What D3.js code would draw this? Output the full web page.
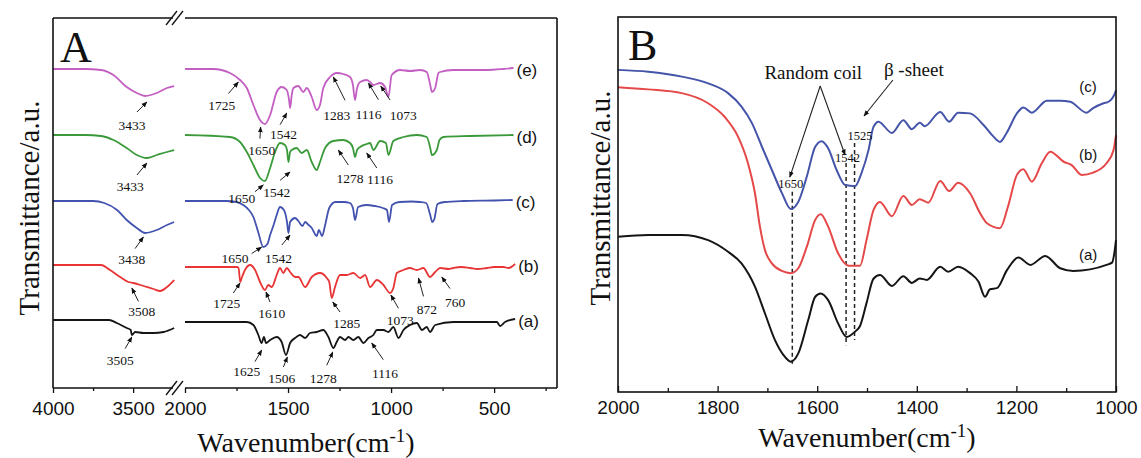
<!DOCTYPE html>
<html><head><meta charset="utf-8">
<script src="https://cdn.jsdelivr.net/npm/d3@7"></script>
<style>body{margin:0;background:#fff}svg{display:block}</style>
</head><body><svg id="c" width="1141" height="458"></svg>
<script>
// ---------------- DATA ----------------
// Panel A, high-wavenumber segment (4000-3220 cm-1), transmittance a.u.
const aLeft_e = [[4000,31.9],[3800,31.9],[3700,31.8],[3623,31.3],[3540,30.1],[3477,29.5],[3425,29.2],[3352,29.5],[3289,30.0],[3244,30.2]];
const aLeft_d = [[4000,25.3],[3800,25.3],[3700,25.2],[3623,24.8],[3540,24.0],[3477,23.3],[3415,23.0],[3352,23.3],[3289,23.6],[3244,23.8]];
const aLeft_c = [[4000,18.7],[3750,18.7],[3680,18.5],[3600,17.8],[3540,16.8],[3477,16.0],[3425,15.5],[3352,15.8],[3289,16.3],[3244,16.6]];
const aLeft_b = [[4000,12.3],[3700,12.3],[3644,11.8],[3581,11.1],[3529,10.6],[3498,10.5],[3435,10.2],[3373,9.9],[3331,9.7],[3289,10.1],[3244,10.8]];
const aLeft_a = [[4000,6.8],[3650,6.8],[3602,6.5],[3540,6.0],[3515,5.8],[3508,5.3],[3487,5.6],[3435,5.5],[3373,5.5],[3310,5.6],[3244,6.0]];
// Panel A, fingerprint segment (2000-400 cm-1)
const aRight_e = [[2000,31.9],[1863,31.9],[1782,31.5],[1733,30.8],[1700,30.0],[1668,28.3],[1636,26.8],[1612,26.4],[1587,27.3],[1555,29.6],[1531,30.1],[1506,29.8],[1495,28.8],[1490,28.0],[1482,29.3],[1474,30.0],[1450,30.2],[1426,29.6],[1409,30.0],[1385,29.1],[1361,27.8],[1345,28.3],[1329,30.0],[1296,31.1],[1264,31.5],[1232,31.4],[1199,31.1],[1185,30.3],[1175,28.8],[1165,30.0],[1150,30.6],[1118,30.8],[1102,30.6],[1086,30.3],[1053,30.5],[1029,30.1],[1013,29.1],[997,31.3],[956,31.8],[908,31.7],[859,31.8],[827,31.6],[810,30.3],[802,29.6],[786,30.0],[770,31.5],[762,31.6],[698,31.8],[617,31.8],[535,31.8],[455,31.9],[406,32.0]];
const aRight_d = [[2000,25.3],[1782,25.1],[1733,24.6],[1700,23.6],[1668,22.3],[1636,21.0],[1612,20.7],[1587,22.0],[1563,23.6],[1539,24.5],[1515,24.3],[1505,23.8],[1498,22.6],[1490,23.6],[1482,23.8],[1458,24.0],[1434,23.5],[1409,23.8],[1385,22.6],[1361,21.8],[1345,22.6],[1320,24.0],[1280,24.7],[1232,24.8],[1199,24.5],[1185,24.0],[1175,23.1],[1165,23.8],[1150,24.1],[1118,24.4],[1102,24.5],[1086,23.8],[1053,24.7],[1025,24.5],[1013,23.3],[989,24.7],[940,25.1],[875,25.3],[827,25.1],[810,24.0],[802,23.3],[778,23.8],[765,24.8],[746,25.1],[617,25.2],[406,25.3]];
const aRight_c = [[2000,18.7],[1800,18.7],[1750,18.6],[1717,18.3],[1690,17.8],[1668,17.1],[1645,15.6],[1620,14.1],[1600,14.4],[1587,15.3],[1570,16.3],[1555,17.3],[1539,18.1],[1520,17.8],[1505,16.6],[1498,15.5],[1490,16.6],[1466,17.0],[1450,16.7],[1430,16.2],[1417,16.6],[1400,16.3],[1385,16.0],[1361,15.2],[1350,15.8],[1335,15.2],[1320,16.3],[1300,18.0],[1270,18.6],[1230,18.6],[1200,18.5],[1185,18.0],[1175,16.8],[1160,18.1],[1120,18.3],[1080,18.2],[1040,18.0],[1020,17.8],[1010,16.6],[995,18.3],[960,18.6],[900,18.65],[860,18.6],[830,18.5],[810,17.3],[800,16.6],[790,16.9],[775,18.4],[740,18.6],[650,18.7],[500,18.75],[410,18.8]];
const aRight_b = [[2000,12.1],[1749,12.1],[1740,12.0],[1732,10.6],[1725,11.0],[1709,11.8],[1684,12.3],[1660,11.8],[1636,10.6],[1612,9.8],[1596,10.3],[1579,10.1],[1555,11.3],[1539,12.0],[1523,11.5],[1506,12.0],[1490,11.6],[1466,11.1],[1450,11.1],[1417,10.1],[1385,11.1],[1345,11.5],[1312,11.0],[1300,10.6],[1288,9.0],[1272,10.1],[1248,11.3],[1215,11.3],[1183,11.5],[1150,11.0],[1126,11.3],[1102,10.1],[1069,10.8],[1037,10.3],[1005,9.5],[989,10.0],[972,11.5],[940,11.8],[908,12.0],[875,11.8],[843,12.0],[811,11.1],[786,11.6],[762,12.0],[720,11.9],[698,12.0],[660,12.1],[617,12.0],[580,11.9],[535,12.0],[500,12.1],[455,12.1],[430,12.0],[398,12.4]];
const aRight_a = [[2000,6.6],[1700,6.6],[1668,6.3],[1644,5.3],[1628,4.5],[1617,5.1],[1607,4.5],[1587,4.8],[1555,5.1],[1531,4.6],[1510,3.3],[1490,4.5],[1466,5.0],[1442,5.3],[1417,5.0],[1393,5.5],[1361,5.6],[1329,5.8],[1304,5.1],[1280,4.0],[1264,4.6],[1248,5.1],[1223,4.8],[1207,5.1],[1183,4.8],[1159,5.1],[1134,4.5],[1110,5.0],[1086,5.3],[1069,5.8],[1037,5.8],[1013,5.6],[989,6.1],[964,5.0],[940,5.8],[908,6.3],[875,6.5],[850,5.8],[827,6.1],[811,5.6],[786,6.3],[698,6.6],[617,6.6],[535,6.6],[487,6.6],[471,6.2],[447,6.6],[398,6.9]];
const seriesNamesA = ["(e)","(d)","(c)","(b)","(a)"];

// Panel B (2000-1000 cm-1), transmittance a.u.
const bSpec_c = [[2000,85.9],[1939,85.4],[1872,84.1],[1819,82.3],[1779,79.7],[1752,76.1],[1731,71.7],[1711,65.4],[1691,59.2],[1671,53.1],[1653,48.8],[1638,50.7],[1621,57.4],[1604,65.4],[1591,66.9],[1578,65.0],[1561,59.2],[1544,55.2],[1524,54.9],[1511,58.4],[1497,64.5],[1487,70.7],[1477,72.1],[1450,69.1],[1427,72.5],[1410,70.1],[1394,71.8],[1384,70.9],[1353,74.7],[1335,72.1],[1317,74.5],[1293,74.3],[1266,71.2],[1246,68.1],[1233,66.7],[1220,69.0],[1199,74.3],[1186,75.9],[1169,74.5],[1139,77.7],[1112,77.7],[1092,77.4],[1059,74.5],[1046,75.7],[1025,77.0],[1015,77.4],[1002,79.7],[1000,80.5]];
const bSpec_b = [[2000,81.3],[1939,80.7],[1872,79.7],[1819,77.0],[1786,73.4],[1759,68.1],[1739,61.0],[1725,53.0],[1715,44.1],[1705,37.9],[1691,34.3],[1671,32.3],[1653,31.7],[1638,33.0],[1621,38.7],[1604,45.9],[1593,47.4],[1578,44.1],[1558,37.0],[1537,33.7],[1514,33.7],[1501,40.5],[1487,48.5],[1474,50.7],[1450,46.9],[1427,52.3],[1410,49.9],[1394,51.4],[1377,50.5],[1353,56.3],[1335,53.6],[1317,55.8],[1293,53.0],[1273,47.7],[1259,45.0],[1233,43.7],[1217,49.4],[1199,57.9],[1186,59.4],[1169,56.1],[1149,61.0],[1132,64.1],[1105,61.4],[1089,60.5],[1069,57.9],[1046,58.5],[1019,61.0],[1005,64.5],[1000,68.5]];
const bSpec_a = [[2000,41.4],[1939,41.9],[1872,41.9],[1819,40.5],[1779,37.4],[1752,34.3],[1725,28.1],[1705,21.0],[1685,13.9],[1668,9.9],[1653,8.1],[1638,10.3],[1618,19.2],[1604,25.4],[1593,26.3],[1578,24.5],[1558,18.3],[1541,14.7],[1524,16.1],[1514,17.6],[1501,23.7],[1487,30.2],[1474,31.2],[1450,28.3],[1427,30.9],[1410,29.1],[1394,30.3],[1380,29.9],[1353,33.4],[1337,32.1],[1317,33.4],[1293,31.7],[1276,29.4],[1263,25.4],[1253,27.4],[1239,27.7],[1219,32.5],[1196,35.9],[1172,33.9],[1142,36.3],[1112,33.0],[1086,32.3],[1052,32.7],[1019,33.9],[1008,34.5],[1002,38.3],[1000,40.5]];
const seriesNamesB = ["(c)","(b)","(a)"];

// Tick values
const ticksAL = [4000, 3500], minorAL = [3750];
const ticksAR = [2000, 1500, 1000, 500], minorAR = [1750, 1250, 750, 250];
const ticksB = [2000, 1800, 1600, 1400, 1200, 1000], minorB = [1900, 1700, 1500, 1300, 1100];

// Peak annotations panel A: [label, segment, tip wavenumber, tip value, tail dx, tail dy, text dx, text dy]
const annA = [
  ["3433","L",3414,28.6,-10,10,-15,23],
  ["3433","L",3414,22.5,-10,12,-16.7,23.4],
  ["3438","L",3436,15.1,-8.3,11.6,-11.6,22.6],
  ["3508","L",3508,10.0,6.6,13.4,10,23.4],
  ["3505","L",3508,5.1,-6.7,11.6,-11.7,23.3],
  ["1725","R",1741,30.6,-10,11.6,-16.6,23.3],
  ["1650","R",1633,26.1,-0.7,11.6,1,23.3],
  ["1542","R",1506,27.5,-6.7,11.7,-3.4,21.7],
  ["1283","R",1280,31.1,11.7,23.3,3.4,38.3],
  ["1116","R",1110,30.5,10,16.7,0,31.7],
  ["1073","R",1050,30.2,9.3,14,22.6,29],
  ["1650","R",1620,20.3,-8.3,6.7,-21.6,13.3],
  ["1542","R",1490,21.6,-10,8.3,-13.3,20],
  ["1278","R",1256,23.8,10,15,11.7,28.3],
  ["1116","R",1118,23.5,10,15,13.3,26.7],
  ["1650","R",1628,14.1,-10,6.6,-26.7,11.6],
  ["1542","R",1490,15.3,-8.3,10,-11.7,23.3],
  ["1725","R",1733,10.5,-6.7,10,-13.3,20],
  ["1610","R",1607,9.6,4,10,5.7,21.6],
  ["1285","R",1283,8.6,7.3,10,14,21.6],
  ["1073","R",1001,9.3,7.6,13.3,9.3,25],
  ["872","R",867,11.0,5,18.4,8.4,31.7],
  ["760","R",754,11.1,8.3,11.6,13.3,25],
  ["1625","R",1628,3.8,-6.7,11.7,-15,21.7],
  ["1506","R",1503,3.1,-4,10,-5.6,21.6],
  ["1278","R",1283,3.6,-6,13.3,-9.4,26.6],
  ["1116","R",1094,4.5,11.6,16.7,13.3,30]
];
// Panel B marker lines [wavenumber, from value, to value] and their labels
const dashB = [[1650,53.4,7.2],[1542,61.1,12.5],[1525,66.4,13.9]];
const dashLabelsB = [["1650",1653,55.7],["1542",1539,62.4],["1525",1514,68.5]];
const seriesLabelPosB = [[1056,81.3],[1056,63.2],[1056,36.5]];

// ---------------- DRAW ----------------
const svg = d3.select("#c");
const serif = "'Liberation Serif','Times New Roman',serif";
const sans = "'Liberation Sans',Arial,sans-serif";
const colA = ["#c35ec3","#3a9a3a","#4252ae","#e83434","#151515"];
const colB = ["#4454a8","#e54848","#151515"];

svg.append("defs").append("marker").attr("id","ah").attr("viewBox","0 0 10 10")
  .attr("refX",9).attr("refY",5).attr("markerWidth",6).attr("markerHeight",6)
  .attr("markerUnits","userSpaceOnUse").attr("orient","auto")
  .append("path").attr("d","M0,1 L10,5 L0,9 Z").attr("fill","#111");

// ---- Panel A ----
const PA = {l:53, r:557, t:18, b:388, gap0:173, gap1:185};
const xAL = d3.scaleLinear().domain([4000,3220]).range([53,178]);
const xAR = d3.scaleLinear().domain([2000,190]).range([185,558]);
const yA = d3.scaleLinear().domain([0,37]).range([PA.b, PA.t]);
const gA = svg.append("g");

const leftSets = [aLeft_e,aLeft_d,aLeft_c,aLeft_b,aLeft_a];
const rightSets = [aRight_e,aRight_d,aRight_c,aRight_b,aRight_a];
const lineAL = d3.line().x(d=>xAL(d[0])).y(d=>yA(d[1])).curve(d3.curveMonotoneX);
const lineAR = d3.line().x(d=>xAR(d[0])).y(d=>yA(d[1])).curve(d3.curveMonotoneX);
leftSets.forEach((s,i)=>gA.append("path").attr("d",lineAL(s)).attr("fill","none").attr("stroke",colA[i]).attr("stroke-width",1.8));
rightSets.forEach((s,i)=>gA.append("path").attr("d",lineAR(s)).attr("fill","none").attr("stroke",colA[i]).attr("stroke-width",1.8).attr("stroke-linejoin","round"));
rightSets.forEach((s,i)=>{
  const last = s[s.length-1];
  gA.append("text").attr("x",xAR(last[0])+3).attr("y",yA(last[1])+2).attr("dy","0.35em")
    .attr("font-family",sans).attr("font-size",17).attr("fill","#111").text(seriesNamesA[i]);
});

// annotations A
annA.forEach(a=>{
  const x = (a[1]==="L"?xAL:xAR)(a[2]), y = yA(a[3]);
  gA.append("line").attr("x1",x+a[4]).attr("y1",y+a[5]).attr("x2",x).attr("y2",y)
    .attr("stroke","#222").attr("stroke-width",1).attr("marker-end","url(#ah)");
  gA.append("text").attr("x",x+a[6]).attr("y",y+a[7]).attr("dy","0.35em").attr("text-anchor","middle")
    .attr("font-family",serif).attr("font-size",13.5).attr("fill","#111").text(a[0]);
});

// frame with axis break
const fr = gA.append("g").attr("stroke","#111").attr("stroke-width",1.6).attr("fill","none");
fr.append("line").attr("x1",PA.l).attr("x2",PA.l).attr("y1",PA.t).attr("y2",PA.b);
fr.append("line").attr("x1",PA.r).attr("x2",PA.r).attr("y1",PA.t).attr("y2",PA.b);
[PA.t,PA.b].forEach(yy=>{
  fr.append("line").attr("x1",PA.l).attr("x2",PA.gap0).attr("y1",yy).attr("y2",yy);
  fr.append("line").attr("x1",PA.gap1).attr("x2",PA.r).attr("y1",yy).attr("y2",yy);
  [-5,1].forEach(o=>fr.append("line").attr("x1",PA.gap0+o-2).attr("y1",yy+7).attr("x2",PA.gap0+o+9).attr("y2",yy-7).attr("stroke-width",1.3));
});

function styleAxis(g, size){
  g.select(".domain").remove();
  g.selectAll(".tick line").attr("stroke","#111").attr("stroke-width",1.3);
  g.selectAll("text").attr("font-family",sans).attr("font-size",size).attr("fill","#111");
}
const axAL = gA.append("g").attr("transform",`translate(0,${PA.b})`)
  .call(d3.axisBottom(xAL).tickValues(ticksAL).tickSize(5).tickPadding(9).tickFormat(d3.format("d")));
styleAxis(axAL,19);
const axAR = gA.append("g").attr("transform",`translate(0,${PA.b})`)
  .call(d3.axisBottom(xAR).tickValues(ticksAR).tickSize(5).tickPadding(9).tickFormat(d3.format("d")));
styleAxis(axAR,19);
const mAL = gA.append("g").attr("transform",`translate(0,${PA.b})`).call(d3.axisBottom(xAL).tickValues(minorAL).tickSize(3).tickFormat(""));
styleAxis(mAL,0);
const mAR = gA.append("g").attr("transform",`translate(0,${PA.b})`).call(d3.axisBottom(xAR).tickValues(minorAR).tickSize(3).tickFormat(""));
styleAxis(mAR,0);

gA.append("text").attr("x",60).attr("y",62).attr("font-family",serif).attr("font-size",44).attr("fill","#111").text("A");

function xTitle(g, cx, by){
  const t = g.append("text").attr("x",cx).attr("y",by).attr("text-anchor","middle")
    .attr("font-family",serif).attr("font-size",28).attr("fill","#111");
  t.append("tspan").text("Wavenumber(cm");
  t.append("tspan").attr("dy",-10).attr("font-size",19).text("-1");
  t.append("tspan").attr("dy",10).text(")");
}
function yTitle(g, cx, cy){
  g.append("text").attr("transform",`translate(${cx},${cy}) rotate(-90)`).attr("text-anchor","middle")
    .attr("dy","0.35em").attr("font-family",serif).attr("font-size",29).attr("fill","#111").text("Transmittance/a.u.");
}
xTitle(gA, 306, 452);
yTitle(gA, 29, 208);

// ---- Panel B ----
const PB = {l:618, r:1116, t:17, b:392};
const xB = d3.scaleLinear().domain([2000,1000]).range([PB.l, PB.r]);
const yB = d3.scaleLinear().domain([0,100]).range([PB.b, PB.t]);
const gB = svg.append("g");
const lineB = d3.line().x(d=>xB(d[0])).y(d=>yB(d[1])).curve(d3.curveMonotoneX);

// dashed marker lines
dashB.forEach(d=>gB.append("line").attr("x1",xB(d[0])).attr("x2",xB(d[0])).attr("y1",yB(d[1])).attr("y2",yB(d[2]))
  .attr("stroke","#222").attr("stroke-width",1.5).attr("stroke-dasharray","4,3"));

[bSpec_c,bSpec_b,bSpec_a].forEach((s,i)=>gB.append("path").attr("d",lineB(s)).attr("fill","none")
  .attr("stroke",colB[i]).attr("stroke-width",2).attr("stroke-linejoin","round"));

dashLabelsB.forEach(l=>gB.append("text").attr("x",xB(l[1])).attr("y",yB(l[2])).attr("dy","0.35em").attr("text-anchor","middle")
  .attr("font-family",serif).attr("font-size",12.5).attr("fill","#111").text(l[0]));
seriesNamesB.forEach((n,i)=>gB.append("text").attr("x",xB(seriesLabelPosB[i][0])).attr("y",yB(seriesLabelPosB[i][1])).attr("dy","0.35em")
  .attr("text-anchor","middle").attr("font-family",sans).attr("font-size",15).attr("fill","#111").text(n));

// Random coil / beta-sheet callouts (wavenumber, value)
const rcText = [1608,85.3], rcTail = [1594,81.6], rcTips = [[1655,57.3],[1544,63.2]];
const bsText = [1406,86.1], bsTail = [1448,83.2], bsTip = [1506,73.6];
gB.append("text").attr("x",xB(rcText[0])).attr("y",yB(rcText[1])).attr("dy","0.35em").attr("text-anchor","middle")
  .attr("font-family",serif).attr("font-size",19).attr("fill","#111").text("Random coil");
rcTips.forEach(t=>gB.append("line").attr("x1",xB(rcTail[0])).attr("y1",yB(rcTail[1])).attr("x2",xB(t[0])).attr("y2",yB(t[1]))
  .attr("stroke","#222").attr("stroke-width",1.1).attr("marker-end","url(#ah)"));
gB.append("text").attr("x",xB(bsText[0])).attr("y",yB(bsText[1])).attr("dy","0.35em").attr("text-anchor","middle")
  .attr("font-family",serif).attr("font-size",19).attr("fill","#111").text("β -sheet");
gB.append("line").attr("x1",xB(bsTail[0])).attr("y1",yB(bsTail[1])).attr("x2",xB(bsTip[0])).attr("y2",yB(bsTip[1]))
  .attr("stroke","#222").attr("stroke-width",1.1).attr("marker-end","url(#ah)");

gB.append("rect").attr("x",PB.l).attr("y",PB.t).attr("width",PB.r-PB.l).attr("height",PB.b-PB.t)
  .attr("fill","none").attr("stroke","#111").attr("stroke-width",1.6);
const axB = gB.append("g").attr("transform",`translate(0,${PB.b})`)
  .call(d3.axisBottom(xB).tickValues(ticksB).tickSizeInner(-6).tickSizeOuter(0).tickPadding(9).tickFormat(d3.format("d")));
styleAxis(axB,19);
const mB = gB.append("g").attr("transform",`translate(0,${PB.b})`).call(d3.axisBottom(xB).tickValues(minorB).tickSizeInner(-4).tickSizeOuter(0).tickFormat(""));
styleAxis(mB,0);

gB.append("text").attr("x",628).attr("y",60).attr("font-family",serif).attr("font-size",44).attr("fill","#111").text("B");
xTitle(gB, 867, 447);
yTitle(gB, 600, 198);
</script></body></html>
